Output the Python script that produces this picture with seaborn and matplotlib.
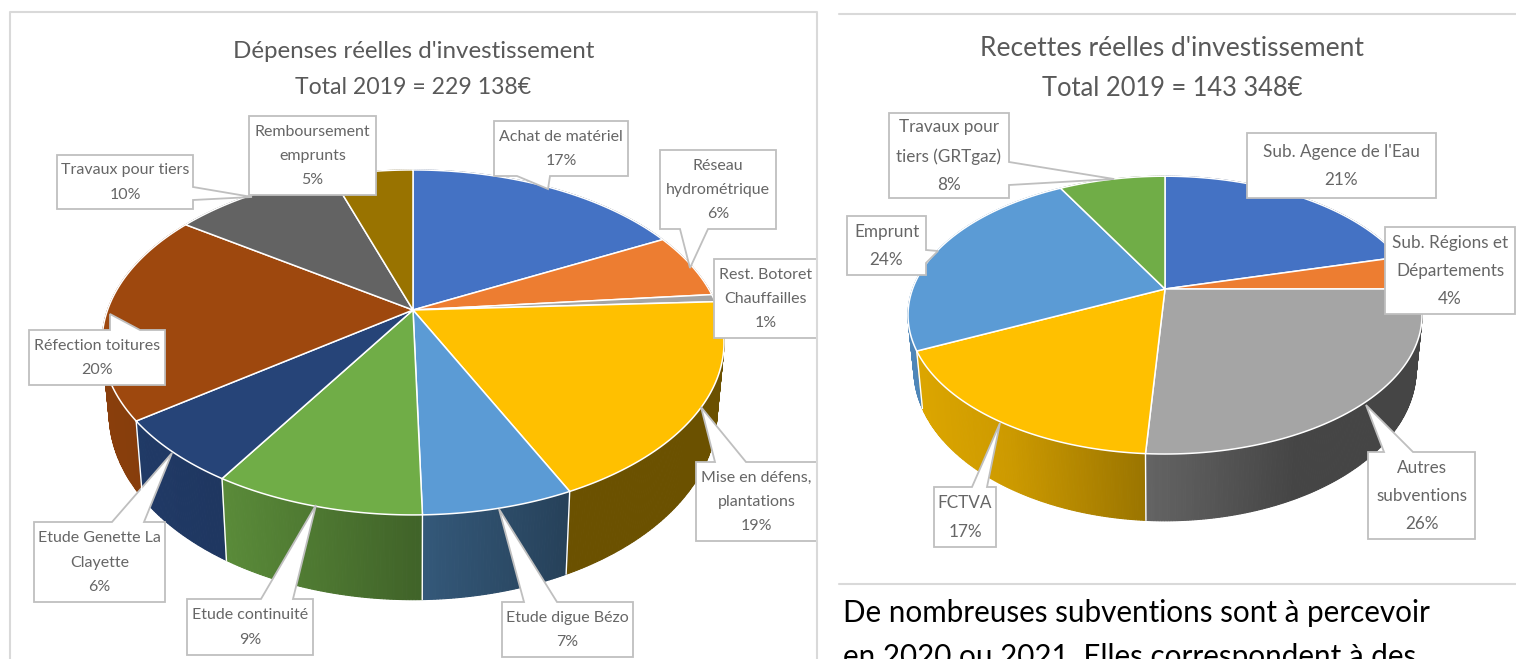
import numpy as np
import matplotlib
matplotlib.use('Agg')
import matplotlib.pyplot as plt
import seaborn as sns

# slice shares (labels are the rounded ones)
dep_names = ['Achat de matériel', 'Réseau\nhydrométrique', 'Rest. Botoret\nChauffailles',
             'Mise en défens,\nplantations', 'Etude digue Bézo', 'Etude continuité',
             'Etude Genette La\nClayette', 'Réfection toitures', 'Travaux pour tiers',
             'Remboursement\nemprunts']
dep_values = [17.4, 6.1, 0.7, 18.8, 6.6, 9.2, 6.1, 19.7, 10.3, 5.1]
dep_labels = ['17%', '6%', '1%', '19%', '7%', '9%', '6%', '20%', '10%', '5%']
dep_colors = ['#4472c4', '#ed7d31', '#a5a5a5', '#ffc000', '#5b9bd5',
              '#70ad47', '#264478', '#9e480e', '#636363', '#997300']

rec_names = ["Sub. Agence de l'Eau", 'Sub. Régions et\nDépartements', 'Autres\nsubventions',
             'FCTVA', 'Emprunt', 'Travaux pour\ntiers (GRTgaz)']
rec_values = [21.0, 4.0, 26.0, 17.0, 24.0, 8.0]
rec_labels = ['21%', '4%', '26%', '17%', '24%', '8%']
rec_colors = ['#4472c4', '#ed7d31', '#a5a5a5', '#ffc000', '#5b9bd5', '#70ad47']

dep_title = ["Dépenses réelles d'investissement", 'Total 2019 = 229 138€']
rec_title = ["Recettes réelles d'investissement", 'Total 2019 = 143 348€']
body_text = ['De nombreuses subventions sont à percevoir', 'en 2020 ou 2021. Elles correspondent à des']

# callout layout: box x0,y0,x1,y1 then pointer (side, base a, base b, tip x, tip y)
dep_boxes = [
    (494, 121, 628, 176, 'bottom', 517, 550, 548, 189),
    (660, 150, 776, 229, 'bottom', 680, 708, 690, 268),
    (714, 259, 817, 338, None),
    (696, 462, 817, 541, 'top', 715, 746, 701, 407),
    (502, 602, 633, 657, 'top', 524, 557, 499, 509),
    (187, 599, 313, 655, 'top', 261, 293, 316, 505),
    (34, 522, 165, 602, 'top', 112, 144, 172, 453),
    (29, 330, 165, 385, 'top', 110, 140, 110, 314),
    (57, 155, 193, 209, 'right', 187, 200, 252, 197),
    (249, 116, 376, 195, None),
]
rec_boxes = [
    (1247, 133, 1436, 198, None),
    (1385, 227, 1515, 314, None),
    (1368, 452, 1475, 539, 'top', 1384, 1413, 1366, 405),
    (934, 487, 996, 547, 'top', 972, 987, 1000, 423),
    (847, 216, 926, 275, 'right', 250, 263, 938, 251),
    (889, 113, 1009, 198, 'right', 162, 185, 1114, 179),
]

# shading of the side wall against horizontal position
shade_x = [-1.0, -0.6, 0.0, 0.5, 1.0]
shade_f = [0.87, 0.80, 0.58, 0.42, 0.42]

TILT = 0.188


def rim(theta, cx, cy, bx, ay):
    # circle seen in perspective, theta clockwise from the top
    u, v = np.sin(theta), np.cos(theta)
    w = 1 + TILT * v
    return cx + bx * u / w, cy - ay * v / w


def draw_pie(ax, values, colors, cx, cy, rx, ay, drop, ay2):
    bx = rx * np.sqrt(1 - TILT ** 2)
    bx2 = bx * 0.977
    edges = np.radians(np.cumsum([0] + list(values)) * 3.6)
    pal = sns.color_palette(colors)

    # side walls, back to front
    quads = []
    for i, col in enumerate(pal):
        n = max(int(np.degrees(edges[i + 1] - edges[i]) / 0.5), 1)
        ts = np.linspace(edges[i], edges[i + 1], n + 1)
        for t0, t1 in zip(ts[:-1], ts[1:]):
            quads.append((np.cos((t0 + t1) / 2), t0, t1, col))
    quads.sort(key=lambda q: -q[0])
    for _, t0, t1, col in quads:
        x0, y0 = rim(t0, cx, cy, bx, ay)
        x1, y1 = rim(t1, cx, cy, bx, ay)
        x2, y2 = rim(t1, cx, cy + drop, bx2, ay2)
        x3, y3 = rim(t0, cx, cy + drop, bx2, ay2)
        f = np.interp(((x0 + x1) / 2 - cx) / rx, shade_x, shade_f)
        shaded = tuple(c * f for c in col)
        ax.fill([x0, x1, x2, x3], [y0, y1, y2, y3], color=shaded, lw=0.8)

    # white seams on the visible wall edges
    for t in edges[:-1]:
        if np.cos(t) < -TILT:
            x0, y0 = rim(t, cx, cy, bx, ay)
            x1, y1 = rim(t, cx, cy + drop, bx2, ay2)
            ax.plot([x0, x1], [y0, y1], color='white', lw=1.0)

    # top face
    for i, col in enumerate(pal):
        ts = np.linspace(edges[i], edges[i + 1], 80)
        xs, ys = rim(ts, cx, cy, bx, ay)
        ax.fill(np.r_[cx, xs], np.r_[cy, ys], facecolor=col, edgecolor='white', lw=1.1, joinstyle='round')


def draw_callouts(ax, names, labels, boxes, size):
    for name, lab, box in zip(names, labels, boxes):
        x0, y0, x1, y1 = box[:4]
        side = box[4]
        if side == 'top':
            a, b, tx, ty = box[5:]
            px = [x0, a, tx, b, x1, x1, x0]
            py = [y0, y0, ty, y0, y0, y1, y1]
        elif side == 'bottom':
            a, b, tx, ty = box[5:]
            px = [x0, x1, x1, b, tx, a, x0]
            py = [y0, y0, y1, y1, ty, y1, y1]
        elif side == 'right':
            a, b, tx, ty = box[5:]
            px = [x0, x1, x1, tx, x1, x1, x0]
            py = [y0, y0, a, ty, b, y1, y1]
        else:
            px = [x0, x1, x1, x0]
            py = [y0, y0, y1, y1]
        ax.fill(px, py, facecolor='white', edgecolor='#bfbfbf', lw=1.3, joinstyle='miter')
        ax.text((x0 + x1) / 2, (y0 + y1) / 2 + 0.5, name + '\n' + lab, ha='center', va='center',
                fontsize=size, color='#666666', linespacing=1.95)


sns.set_theme(style='white')
plt.rcParams['font.family'] = ['Lato', 'DejaVu Sans']

fig = plt.figure(figsize=(15.16, 6.59), dpi=100)
ax = fig.add_axes([0, 0, 1, 1])
ax.set_xlim(0, 1516)
ax.set_ylim(659, 0)
ax.axis('off')

# panel frames
frame = '#d9d9d9'
ax.plot([10, 10, 817, 817], [659, 12, 12, 659], color=frame, lw=1.5)
ax.plot([839, 1516], [14, 14], color=frame, lw=1.5)
ax.plot([839, 1516], [584, 584], color=frame, lw=1.5)

draw_pie(ax, dep_values, dep_colors, 413, 310, 311, 166.4, 68, 180)
draw_pie(ax, rec_values, rec_colors, 1165, 289, 257, 134, 52, 146)
draw_callouts(ax, dep_names, dep_labels, dep_boxes, 11.5)
draw_callouts(ax, rec_names, rec_labels, rec_boxes, 12.3)

ax.text(413.5, 52, dep_title[0], ha='center', va='center', fontsize=17.4, color='#595959')
ax.text(413.5, 88, dep_title[1], ha='center', va='center', fontsize=16.6, color='#595959')
ax.text(1172, 49, rec_title[0], ha='center', va='center', fontsize=19, color='#595959')
ax.text(1172, 88, rec_title[1], ha='center', va='center', fontsize=18.4, color='#595959')

ax.text(843, 622, body_text[0], ha='left', va='baseline', fontsize=21.3, color='black')
ax.text(843, 666, body_text[1], ha='left', va='baseline', fontsize=21.3, color='black')

fig.savefig('out.png', dpi=100)
